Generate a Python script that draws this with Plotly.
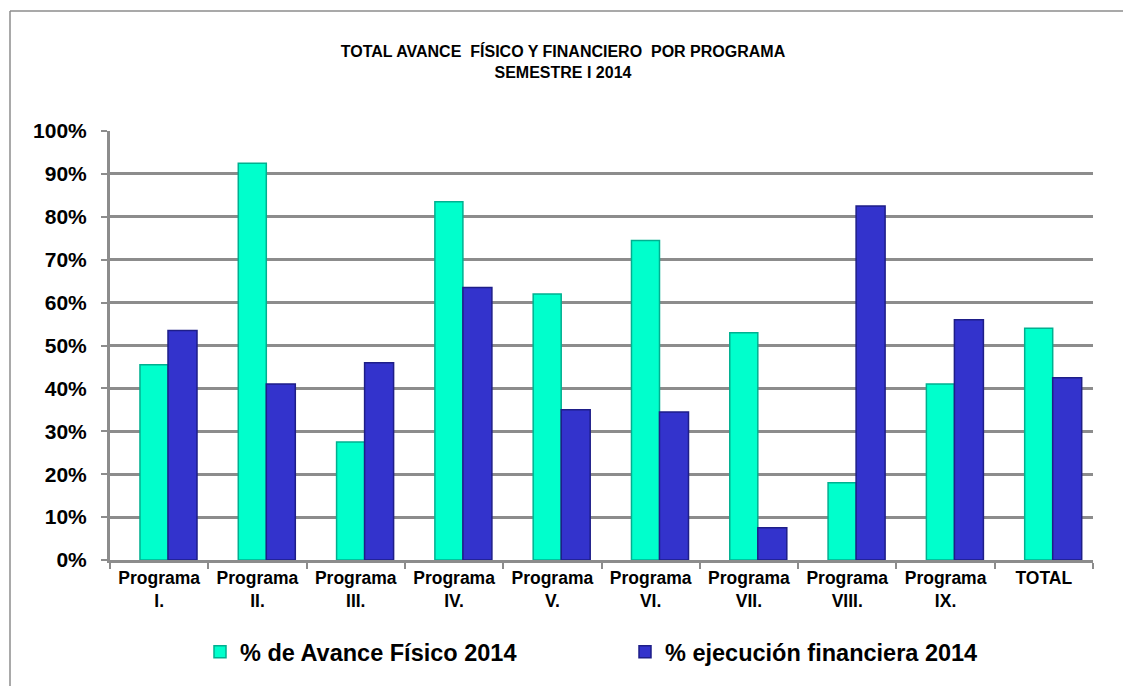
import plotly.graph_objects as go

categories = ["Programa<br>I.", "Programa<br>II.", "Programa<br>III.", "Programa<br>IV.",
              "Programa<br>V.", "Programa<br>VI.", "Programa<br>VII.", "Programa<br>VIII.",
              "Programa<br>IX.", "TOTAL<br> "]
avance_fisico = [0.455, 0.925, 0.275, 0.835, 0.62, 0.745, 0.53, 0.18, 0.41, 0.54]
ejecucion_financiera = [0.535, 0.41, 0.46, 0.635, 0.35, 0.345, 0.075, 0.825, 0.56, 0.425]
name_fisico = "% de Avance Físico 2014"
name_financiera = "% ejecución financiera 2014"
y_ticks = [0, 0.1, 0.2, 0.3, 0.4, 0.5, 0.6, 0.7, 0.8, 0.9, 1.0]

W, H = 1123, 686
ml, mr, mt, mb = 110, 30, 131, 126
pw, ph = W - ml - mr, H - mt - mb

fig = go.Figure()
fig.add_trace(go.Bar(x=categories, y=avance_fisico, name=name_fisico,
                     width=0.285, offset=-0.195,
                     marker=dict(color="#00FFCC", line=dict(color="#00B090", width=1.5))))
fig.add_trace(go.Bar(x=categories, y=ejecucion_financiera, name=name_financiera,
                     width=0.295, offset=0.09,
                     marker=dict(color="#3333CC", line=dict(color="#1E1E88", width=1.5))))

font_main = "Liberation Sans, Arial, sans-serif"

fig.update_layout(
    width=W, height=H,
    margin=dict(l=ml, r=mr, t=mt, b=mb),
    paper_bgcolor="white", plot_bgcolor="white",
    barmode="group",
    title=dict(
        text="TOTAL AVANCE  FÍSICO Y FINANCIERO  POR PROGRAMA<br>SEMESTRE I 2014",
        x=563 / W, xanchor="center", xref="container",
        y=1 - 57 / H, yanchor="top", yref="container",
        font=dict(family="Liberation Sans Narrow, Arial Narrow, Liberation Sans, Arial",
                  size=16, color="black", weight="bold"),
    ),
    font=dict(family=font_main, color="black"),
    showlegend=True,
    legend=dict(orientation="h", x=(200 - ml) / pw, xanchor="left",
                y=-(652 - (H - mb)) / ph, yanchor="middle",
                font=dict(size=23.5, family=font_main, weight="bold"),
                entrywidth=380, itemwidth=30, traceorder="normal"),
    xaxis=dict(
        showline=True, linecolor="#8C8C8C", linewidth=3,
        ticks="outside", ticklen=6, tickcolor="#8C8C8C", tickwidth=1.5,
        tickson="boundaries",
        tickfont=dict(size=17.5, family=font_main, weight="bold"),
        showgrid=False,
    ),
    yaxis=dict(
        range=[0, 1.0], tickvals=y_ticks, tickformat=".0%",
        showline=True, linecolor="#8C8C8C", linewidth=3,
        ticks="outside", ticklen=6, tickcolor="#8C8C8C", tickwidth=1.5,
        ticklabelstandoff=10,
        tickfont=dict(size=21, family=font_main, weight="bold"),
        showgrid=True, gridcolor="#8C8C8C", gridwidth=2.5,
        zeroline=False,
    ),
    shapes=[
        dict(type="line", xref="paper", yref="paper",
             x0=(10 - ml) / pw, x1=(10 - ml) / pw,
             y0=1 + (mt - 11) / ph, y1=-2,
             line=dict(color="#8C8C8C", width=1.5)),
        dict(type="line", xref="paper", yref="paper",
             x0=(10 - ml) / pw, x1=2,
             y0=1 + (mt - 11) / ph, y1=1 + (mt - 11) / ph,
             line=dict(color="#8C8C8C", width=1.5)),
    ],
)

fig.write_html("out.html", config={"displayModeBar": False},
               post_script="document.body.style.margin='0';")
